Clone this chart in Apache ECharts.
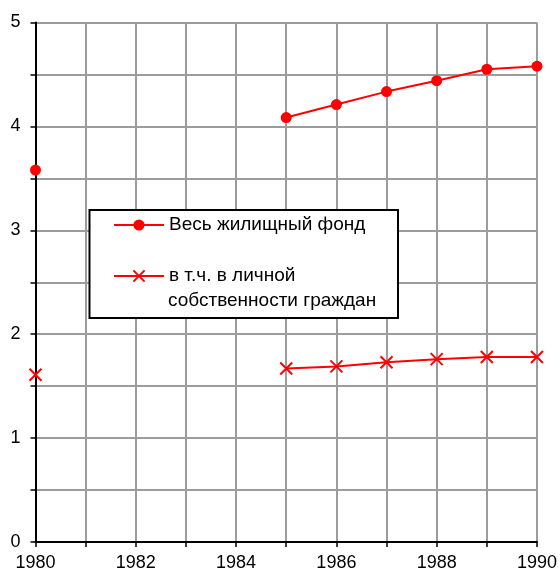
<!DOCTYPE html>
<html>
<head>
<meta charset="utf-8">
<script src="https://cdn.jsdelivr.net/npm/echarts@6/dist/echarts.min.js"></script>
<style>
html,body{margin:0;padding:0;background:#fff;}
#c{width:560px;height:572px;}
</style>
</head>
<body>
<div id="c"></div>
<script>
var years = [1980, 1981, 1982, 1983, 1984, 1985, 1986, 1987, 1988, 1989, 1990];
var totalStock = [3.58, null, null, null, null, 4.085, 4.21, 4.335, 4.44, 4.55, 4.58];
var privateStock = [1.61, null, null, null, null, 1.67, 1.69, 1.73, 1.76, 1.78, 1.78];
var seriesNames = ['Весь жилищный фонд', 'в т.ч. в личной'];
var secondNameLine2 = 'собственности граждан';
var yTickLabels = [0, 1, 2, 3, 4, 5];
var xTickLabels = [1980, 1982, 1984, 1986, 1988, 1990];

function pairs(vals) {
  return years.map(function (y, i) { return [y, vals[i]]; });
}

var FONT = '"Liberation Sans", Arial, sans-serif';
var chart = echarts.init(document.getElementById('c'), null, {renderer: 'canvas'});
var crossPath = 'path://M0,0L10,10M10,0L0,10';

chart.setOption({
  backgroundColor: '#fff',
  animation: false,
  grid: {left: 35.5, right: 22.5, top: 22.5, bottom: 29, containLabel: false},
  xAxis: {
    type: 'value', min: 1980, max: 1990, interval: 1,
    axisLine: {show: true, onZero: false, lineStyle: {color: '#000', width: 2}},
    axisTick: {show: true, inside: false, length: 5, lineStyle: {color: '#000', width: 1.5}},
    axisLabel: {
      color: '#000', fontSize: 18, fontFamily: FONT, margin: 12,
      formatter: function (v) { return xTickLabels.indexOf(Math.round(v)) >= 0 ? String(Math.round(v)) : ''; }
    },
    splitLine: {show: true, lineStyle: {color: '#9c9c9c', width: 2}}
  },
  yAxis: {
    type: 'value', min: 0, max: 5, interval: 0.5,
    axisLine: {show: true, onZero: false, lineStyle: {color: '#000', width: 2}},
    axisTick: {show: true, inside: false, length: 5, lineStyle: {color: '#000', width: 1.5}},
    axisLabel: {
      color: '#000', fontSize: 18, fontFamily: FONT, margin: 15,
      formatter: function (v) { return yTickLabels.indexOf(v) >= 0 ? String(v) : ''; }
    },
    splitLine: {show: true, lineStyle: {color: '#9c9c9c', width: 2}}
  },
  legend: {
    show: true, orient: 'vertical', left: 113, top: 214, padding: 0,
    itemWidth: 50, itemHeight: 14, itemGap: 29, z: 6,
    textStyle: {color: '#000', fontSize: 19, fontFamily: FONT, lineHeight: 22},
    data: seriesNames
  },
  graphic: [
    {type: 'rect', z: 5, silent: true,
     shape: {x: 89.5, y: 210, width: 308.5, height: 108},
     style: {fill: '#fff', stroke: '#000', lineWidth: 2}},
    {type: 'text', z: 7, silent: true, left: 168, top: 291,
     style: {text: secondNameLine2, fill: '#000', font: '19px ' + FONT}}
  ],
  series: [
    {
      name: seriesNames[0], type: 'line', data: pairs(totalStock),
      connectNulls: false, symbol: 'circle', symbolSize: 11, showSymbol: true,
      lineStyle: {color: '#ff0000', width: 2},
      itemStyle: {color: '#ff0000'}, z: 3
    },
    {
      name: seriesNames[1], type: 'line', data: pairs(privateStock),
      connectNulls: false, symbol: crossPath, symbolSize: 12, showSymbol: true,
      lineStyle: {color: '#ff0000', width: 2},
      itemStyle: {color: '#ff0000', borderColor: '#ff0000', borderWidth: 2}, z: 3
    }
  ]
});
</script>
</body>
</html>
